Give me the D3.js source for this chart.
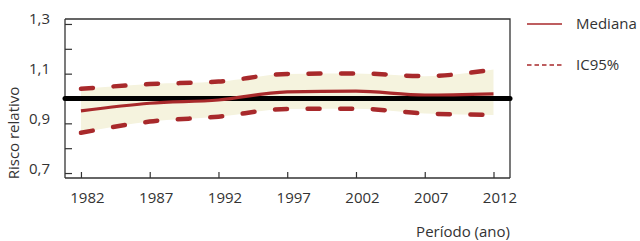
<!DOCTYPE html>
<html>
<head>
<meta charset="utf-8">
<script src="https://cdn.jsdelivr.net/npm/d3@7"></script>
<style>
  body { margin: 0; background: #fff; }
  text { font-family: 'Open Sans', sans-serif; fill: #333; }
</style>
</head>
<body>
<svg class="chart"></svg>
<script>
//Data
const years = [1982, 1987, 1992, 1997, 2002, 2007, 2012];
const median = [0.95, 0.981, 0.994, 1.027, 1.03, 1.014, 1.019];
const upper = [1.039, 1.058, 1.068, 1.099, 1.101, 1.09, 1.117];
const lower = [0.862, 0.907, 0.927, 0.958, 0.959, 0.94, 0.934];
const yTicks = [0.7, 0.8, 0.9, 1.0, 1.1, 1.2, 1.3];
const yLabels = [0.7, 0.9, 1.1, 1.3];
const reference = 1.0;

const width = 640;
const height = 241;
const plot = { left: 65, right: 510, top: 19, bottom: 178 };
const red = '#a8292b';
const fontSize = '15px';

const svg = d3.select('.chart').attr('width', width).attr('height', height);

const x = d3.scaleLinear().domain([1980.84, 2013.2]).range([plot.left, plot.right]);
const y = d3.scaleLinear().domain([0.68, 1.32]).range([plot.bottom, plot.top]);

const rows = years.map((yr, i) => ({ year: yr, median: median[i], upper: upper[i], lower: lower[i] }));

//Confidence band
svg.append('path')
  .datum(rows)
  .attr('fill', '#f5f3de')
  .attr('d', d3.area()
    .curve(d3.curveMonotoneX)
    .x(d => x(d.year))
    .y0(d => y(d.lower))
    .y1(d => y(d.upper)));

//Frame: top and right
svg.append('path')
  .attr('fill', 'none')
  .attr('stroke', '#333')
  .attr('stroke-width', 1.3)
  .attr('d', `M${plot.left},${plot.top}H${plot.right}V${plot.bottom}`);

//Axes with inward ticks
const xAxis = svg.append('g')
  .attr('transform', `translate(0,${plot.bottom})`)
  .call(d3.axisBottom(x).tickValues(years).tickSizeInner(-6).tickSizeOuter(0).tickFormat(d3.format('d')));
xAxis.select('.domain').attr('stroke', '#333').attr('stroke-width', 1.3)
  .attr('d', `M${plot.left},0H${plot.right}`);
xAxis.selectAll('.tick line').attr('stroke', '#333').attr('stroke-width', 1.2);
xAxis.selectAll('.tick text')
  .attr('y', 14).attr('dx', 6)
  .style('font-size', fontSize).style('font-family', "'Open Sans', sans-serif").attr('fill', '#333');

const yAxis = svg.append('g')
  .attr('transform', `translate(${plot.left},0)`)
  .call(d3.axisLeft(y).tickValues(yTicks).tickSizeInner(-7).tickSizeOuter(0)
    .tickFormat(d => yLabels.some(v => Math.abs(v - d) < 1e-9) ? d3.format('.1f')(d).replace('.', ',') : ''));
yAxis.select('.domain').attr('stroke', '#333').attr('stroke-width', 1.3)
  .attr('d', `M0,${plot.top}V${plot.bottom}`);
yAxis.selectAll('.tick line').attr('stroke', '#333').attr('stroke-width', 1.2);
yAxis.selectAll('.tick text')
  .attr('x', -15).attr('dy', '-0.0em')
  .style('font-size', fontSize).style('font-family', "'Open Sans', sans-serif").attr('fill', '#333');

//Reference line
svg.append('line')
  .attr('x1', plot.left).attr('x2', plot.right)
  .attr('y1', y(reference)).attr('y2', y(reference))
  .attr('stroke', '#000').attr('stroke-width', 5).attr('stroke-linecap', 'round');

//Lines
const lineFor = key => d3.line().curve(d3.curveMonotoneX).x(d => x(d.year)).y(d => y(d[key]));

svg.append('path').datum(rows)
  .attr('fill', 'none').attr('stroke', red).attr('stroke-width', 3.2)
  .attr('d', lineFor('median'));

['upper', 'lower'].forEach(key => {
  svg.append('path').datum(rows)
    .attr('fill', 'none').attr('stroke', red).attr('stroke-width', 4.5)
    .attr('stroke-linecap', 'round').attr('stroke-dasharray', '12,20.6')
    .attr('d', lineFor(key));
});

//Axis titles
svg.append('text')
  .attr('transform', `translate(19,${133}) rotate(-90)`)
  .attr('text-anchor', 'middle')
  .style('font-size', fontSize)
  .text('Risco relativo');

svg.append('text')
  .attr('x', plot.right).attr('y', 237)
  .attr('text-anchor', 'end')
  .style('font-size', fontSize)
  .text('Período (ano)');

//Legend
const legend = svg.append('g').attr('transform', 'translate(527,0)');
const legendItems = [{ name: 'Mediana', dash: null, y: 24 }, { name: 'IC95%', dash: '4.5,3', y: 65 }];
legendItems.forEach(item => {
  legend.append('line')
    .attr('x1', 0).attr('x2', 35).attr('y1', item.y).attr('y2', item.y)
    .attr('stroke', red).attr('stroke-width', 1.6)
    .attr('stroke-dasharray', item.dash);
  legend.append('text')
    .attr('x', 49).attr('y', item.y).attr('dy', '0.35em')
    .style('font-size', fontSize)
    .text(item.name);
});
</script>
</body>
</html>
